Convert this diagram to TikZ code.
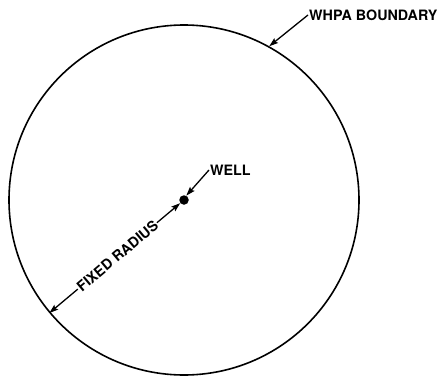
\documentclass[tikz,border=0pt]{standalone}
\usepackage{fontspec}
\setmainfont{TeX Gyre Heros}
\usetikzlibrary{arrows.meta,calc}
\begin{document}
\begin{tikzpicture}[x=1pt,y=1pt,
  lbl/.style={font=\fontsize{14.3}{15}\selectfont\bfseries, inner sep=1pt},
  lead/.style={line width=1.3pt, -{Stealth[length=9pt,width=6pt,inset=1.5pt]}}]
\useasboundingbox (0,0) rectangle (437,376);
\node[circle, draw, line width=1.6pt, minimum size=350pt, inner sep=0pt] (bnd) at (184,176) {};
\node[circle, fill, minimum size=9.5pt, inner sep=0pt] (well) at (184,176) {};
\node[lbl, anchor=west] (whpa) at (308,361) {WHPA BOUNDARY};
\node[lbl, anchor=west] (welllbl) at (209,206) {WELL};
\node[lbl, rotate=40] (fr) at ($(184,176)+(220:87)$) {FIXED RADIUS};
\draw[lead] (whpa.west) -- (bnd.61.5);
\draw[lead] (welllbl.west) -- (well.62);
\draw[lead] (fr.east) -- (well.220);
\draw[lead] (fr.west) -- (bnd.220);
\end{tikzpicture}
\end{document}
